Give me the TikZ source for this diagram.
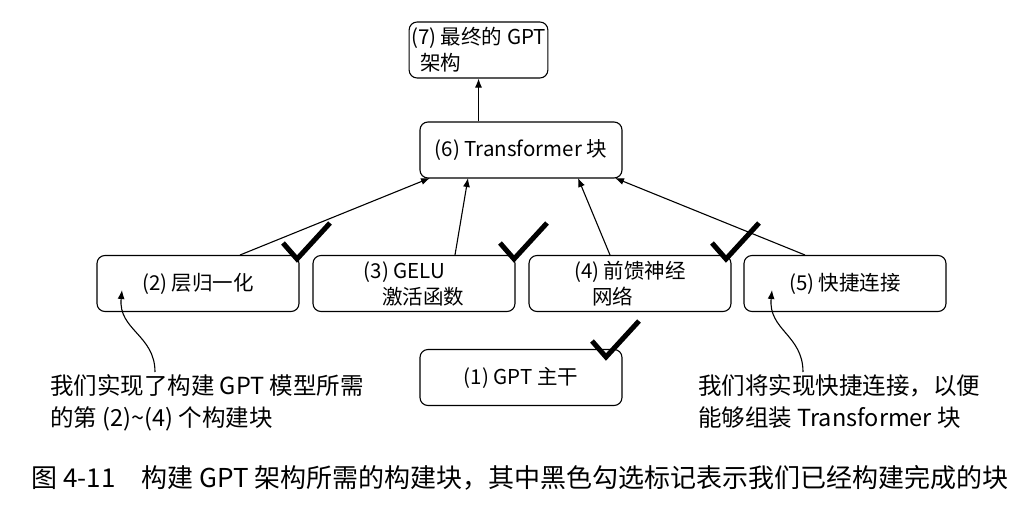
\documentclass[tikz,border=0pt]{standalone}
\usepackage{fontspec}
\setmainfont{Noto Sans CJK SC}
\usetikzlibrary{positioning,arrows.meta}
\tikzset{
  blk/.style={draw,rounded corners=8pt,line width=1.1pt,minimum width=202pt,minimum height=56pt,align=left,inner sep=2pt,font=\fontsize{20.5}{26}\selectfont},
  arr/.style={-{Latex[length=9pt,width=7pt]},line width=1.1pt},
  chk/.style={line width=5pt,line join=miter},
  note/.style={align=left,anchor=north west,inner sep=0pt,font=\fontsize{23.5}{32}\selectfont}
}
\begin{document}
\begin{tikzpicture}[x=1pt,y=-1pt]
\useasboundingbox (0,0) rectangle (1034,512);
%%
\node (node_7) at (478.5,50) [blk,minimum width=117pt] {(7) 最终的 GPT\\\ \ 架构};
\node (node_6) at (521,150) [blk] {(6) Transformer 块};
\node (node_2) at (198,283.5) [blk] {(2) 层归一化};
\node (node_3) at (414,283.5) [blk] {(3) GELU\\\ \ \ \ 激活函数};
\node (node_4) at (630,283.5) [blk] {(4) 前馈神经\\\ \ \ \ 网络};
\node (node_5) at (845,283.5) [blk] {(5) 快捷连接};
\node (node_1) at (521,377.5) [blk] {(1) GPT 主干};
%
\coordinate (t_2) at (240,255);
\coordinate (t_3) at (455,255);
\coordinate (t_4) at (610,255);
\coordinate (t_5) at (805,255);
\coordinate (h_2) at (430,178);
\coordinate (h_3) at (468,178);
\coordinate (h_4) at (578,178);
\coordinate (h_5) at (615,178);
\draw [arr] (node_6.north -| node_7.south) -- (node_7.south);
\draw [arr] (t_2) -- (h_2);
\draw [arr] (t_3) -- (h_3);
\draw [arr] (t_4) -- (h_4);
\draw [arr] (t_5) -- (h_5);
% check marks
\foreach \x/\y in {283/243, 500/243, 712/243, 592/341}
  \draw [chk] (\x,\y) -- (\x+14,\y+16) -- (\x+47,\y-20);
% notes
\node (note_l) at (50,374) [note] {我们实现了构建 GPT 模型所需\\的第 (2)\textasciitilde(4) 个构建块};
\node (note_r) at (698,374) [note] {我们将实现快捷连接，以便\\能够组装 Transformer 块};
\coordinate (p_l) at (122,290);
\coordinate (p_r) at (772,290);
\draw [arr] (155,372) ..controls (155,335) and (118,330) .. (p_l);
\draw [arr] (803,372) ..controls (803,335) and (768,330) .. (p_r);
%
\node (cap) at (520,478) [font=\fontsize{26}{30}\selectfont] {图 4-11\quad 构建 GPT 架构所需的构建块，其中黑色勾选标记表示我们已经构建完成的块};
\end{tikzpicture}
\end{document}
